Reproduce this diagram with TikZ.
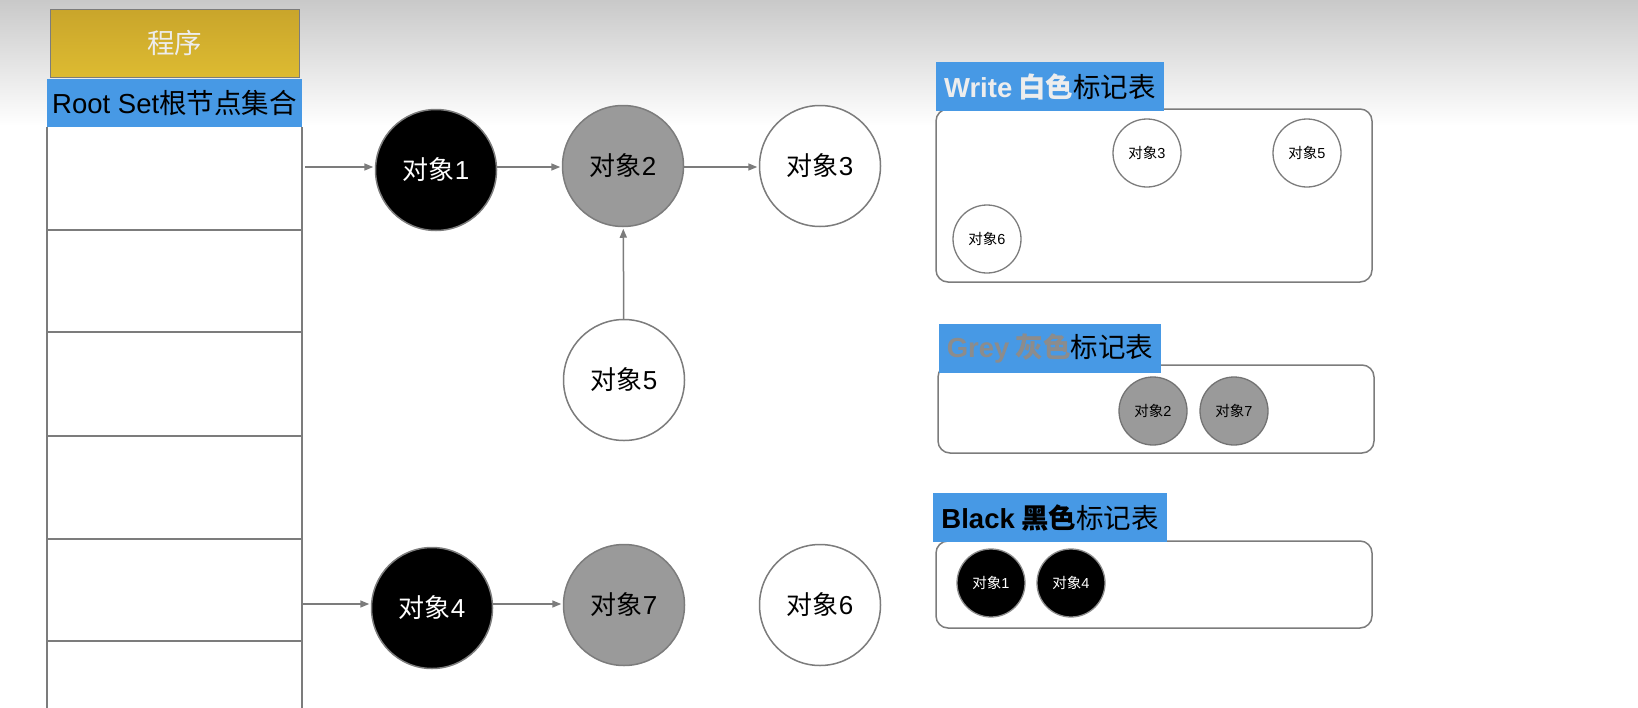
\documentclass[tikz,border=0pt]{standalone}
\usepackage{fontspec}
\setmainfont{Noto Sans CJK SC}
\newfontfamily\lat{Liberation Sans}
\usetikzlibrary{arrows.meta,calc}
\definecolor{hblue}{HTML}{4799E5}
\definecolor{goldtop}{HTML}{C9A52B}
\definecolor{goldbot}{HTML}{DDBB31}
\definecolor{bgtop}{HTML}{C9C9C9}
\definecolor{edge}{HTML}{7C7C7C}
\definecolor{objgray}{HTML}{9A9A9A}
\definecolor{greytxt}{HTML}{8C8C8C}
\definecolor{lighttxt}{HTML}{EDEDED}
\tikzset{
  obj/.style={circle, draw=edge, line width=1.5pt, minimum size=121pt, inner sep=0pt,
    font=\fontsize{26}{28}\selectfont},
  wobj/.style={obj, fill=white, text=black},
  gobj/.style={obj, fill=objgray, text=black},
  bobj/.style={obj, fill=black, text=white},
  sobj/.style={circle, draw=edge, line width=1.3pt, minimum size=68pt, inner sep=0pt,
    font=\fontsize{14.5}{16}\selectfont},
  swobj/.style={sobj, fill=white, text=black},
  sgobj/.style={sobj, fill=objgray, draw=black!55, text=black},
  sbobj/.style={sobj, fill=black, draw=black!45, text=white},
  arr/.style={draw=edge, line width=1.5pt, -{Triangle[length=9pt,width=7pt]}, shorten >=1.5pt},
  cellline/.style={draw=edge, line width=1.5pt},
  hdr/.style={fill=hblue, inner sep=0pt, font=\fontsize{27.5}{30}\selectfont},
  tbox/.style={draw=edge, line width=1.5pt, rounded corners=12pt, fill=white}
}
\begin{document}
\begin{tikzpicture}[x=1pt,y=-1pt]
\useasboundingbox (0,0) rectangle (1638,707);
\fill[white] (0,0) rectangle (1638,707);
\shade[top color=bgtop,bottom color=white] (0,0) rectangle (1638,126);

% program box and root set
\node[draw=edge, line width=1pt, top color=goldtop, bottom color=goldbot, minimum width=249pt,
  minimum height=68pt, inner sep=0pt, text=lighttxt, font=\fontsize{27.5}{30}\selectfont]
  (prog) at (174.5,43) {程序};
\draw[cellline] (47,127) -- (47,710) (302,127) -- (302,710);
\foreach \yy in {230,332,436,539,641} \draw[cellline] (47,\yy) -- (302,\yy);
\node[hdr, minimum width=255pt, minimum height=48pt] (rootset) at (174.5,103)
  {{\lat Root Set}根节点集合};

% objects
\node[bobj] (o1) at (436,170) {对象{\lat 1}};
\node[gobj] (o2) at (623,166) {对象{\lat 2}};
\node[wobj] (o3) at (820,166) {对象{\lat 3}};
\node[wobj] (o5) at (624,380) {对象{\lat 5}};
\node[bobj] (o4) at (432,608) {对象{\lat 4}};
\node[gobj] (o7) at (624,605) {对象{\lat 7}};
\node[wobj] (o6) at (820,605) {对象{\lat 6}};

\coordinate (r1) at (305,167);
\coordinate (r4) at (302,604);
\draw[arr] (r1) -- (r1 -| o1.west);
\draw[arr] (o1.east |- r1) -- (r1 -| o2.west);
\draw[arr] (o2.east |- r1) -- (r1 -| o3.west);
\draw[arr] (o5) -- (o2);
\draw[arr] (r4) -- (r4 -| o4.west);
\draw[arr] (o4.east |- r4) -- (r4 -| o7.west);

% white table
\node[tbox, minimum width=436pt, minimum height=173pt] (wbox) at (1154,195.5) {};
\node[hdr, minimum width=228pt, minimum height=49pt] (whdr) at (1050,86.5)
  {\textcolor{lighttxt}{{\lat\bfseries Write} \bfseries 白色}标记表};
\node[swobj] (w3) at (1147,153) {对象{\lat 3}};
\node[swobj] (w5) at (1307,153) {对象{\lat 5}};
\node[swobj] (w6) at (987,239) {对象{\lat 6}};

% grey table
\node[tbox, minimum width=436pt, minimum height=88pt] (gbox) at (1156,409) {};
\node[hdr, minimum width=222pt, minimum height=49pt] (ghdr) at (1050,348.5)
  {\textcolor{greytxt}{{\lat\bfseries Grey} \bfseries 灰色}标记表};
\node[sgobj] (g2) at (1153,411) {对象{\lat 2}};
\node[sgobj] (g7) at (1234,411) {对象{\lat 7}};

% black table
\node[tbox, minimum width=436pt, minimum height=87pt] (bbox) at (1154,584.5) {};
\node[hdr, minimum width=234pt, minimum height=49pt] (bhdr) at (1050,517.5)
  {{\lat\bfseries Black} {\bfseries 黑色}标记表};
\node[sbobj] (b1) at (991,583) {对象{\lat 1}};
\node[sbobj] (b4) at (1071,583) {对象{\lat 4}};
\end{tikzpicture}
\end{document}
